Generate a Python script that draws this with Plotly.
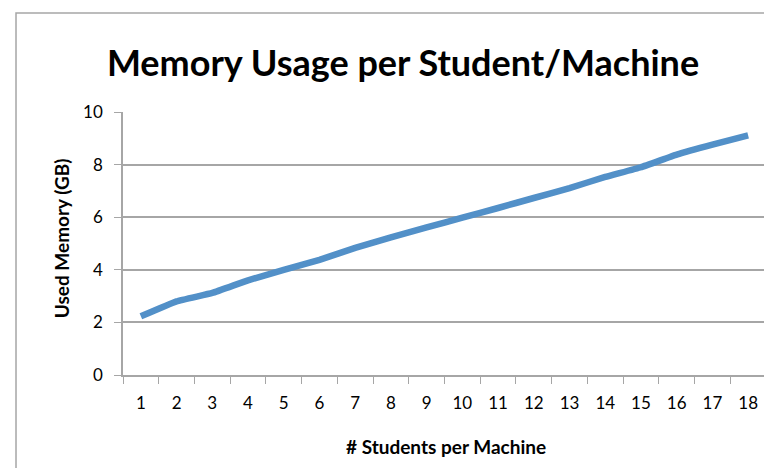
import plotly.graph_objects as go

students = [str(i) for i in range(1, 19)]
memory_gb = [2.23, 2.80, 3.12, 3.60, 4.00, 4.38, 4.83, 5.23, 5.61, 5.98,
             6.35, 6.73, 7.11, 7.53, 7.90, 8.38, 8.76, 9.11]
y_ticks = [0, 2, 4, 6, 8, 10]

FONT = "Lato, 'Open Sans', sans-serif"
LINE_COLOR = "#5290C8"
GRID = "#A6A6A6"

fig = go.Figure()
fig.add_trace(go.Scatter(
    x=students, y=memory_gb, mode="lines",
    line=dict(color=LINE_COLOR, width=6.5, shape="spline", smoothing=0.3),
    hoverinfo="x+y", showlegend=False,
))

fig.update_layout(
    width=772, height=468,
    margin=dict(l=115, r=14, t=104, b=101, autoexpand=False),
    paper_bgcolor="white", plot_bgcolor="white",
    title=dict(text="<b>Memory Usage per Student/Machine</b>",
               x=0.5117, xanchor="center", y=0.882, yanchor="middle",
               font=dict(family=FONT, size=36, color="black")),
    font=dict(family=FONT, color="black"),
    xaxis=dict(
        type="category", range=[-0.5, 17.5], showgrid=False,
        showline=True, linecolor=GRID, linewidth=1.5,
        ticks="outside", tickson="boundaries", ticklen=7, tickcolor=GRID,
        tickfont=dict(size=17, color="black"), ticklabelstandoff=12,
        automargin=False, fixedrange=True,
    ),
    yaxis=dict(
        range=[0, 10], tickvals=y_ticks,
        showgrid=True, gridcolor=GRID, gridwidth=1.5,
        showline=True, linecolor=GRID, linewidth=1.5,
        ticks="outside", ticklen=7, tickcolor=GRID,
        tickfont=dict(size=17, color="black"), ticklabelstandoff=8,
        zeroline=False, automargin=False, fixedrange=True,
    ),
    annotations=[
        dict(text="<b># Students per Machine</b>", xref="paper", yref="paper",
             x=0.5016, y=-0.27, xanchor="center", yanchor="middle",
             showarrow=False, font=dict(family=FONT, size=19, color="black")),
        dict(text="<b>Used Memory (GB)</b>", xref="paper", yref="paper",
             x=-0.0964, y=0.52, xanchor="center", yanchor="middle", textangle=-90,
             showarrow=False, font=dict(family=FONT, size=19, color="black")),
    ],
    shapes=[dict(type="rect", xref="paper", yref="paper",
                 x0=-0.1664, x1=1.06, y0=-0.55, y1=1.3764,
                 line=dict(color="#A6A6A6", width=1.5), layer="below")],
)

fig.write_html("out.html")
